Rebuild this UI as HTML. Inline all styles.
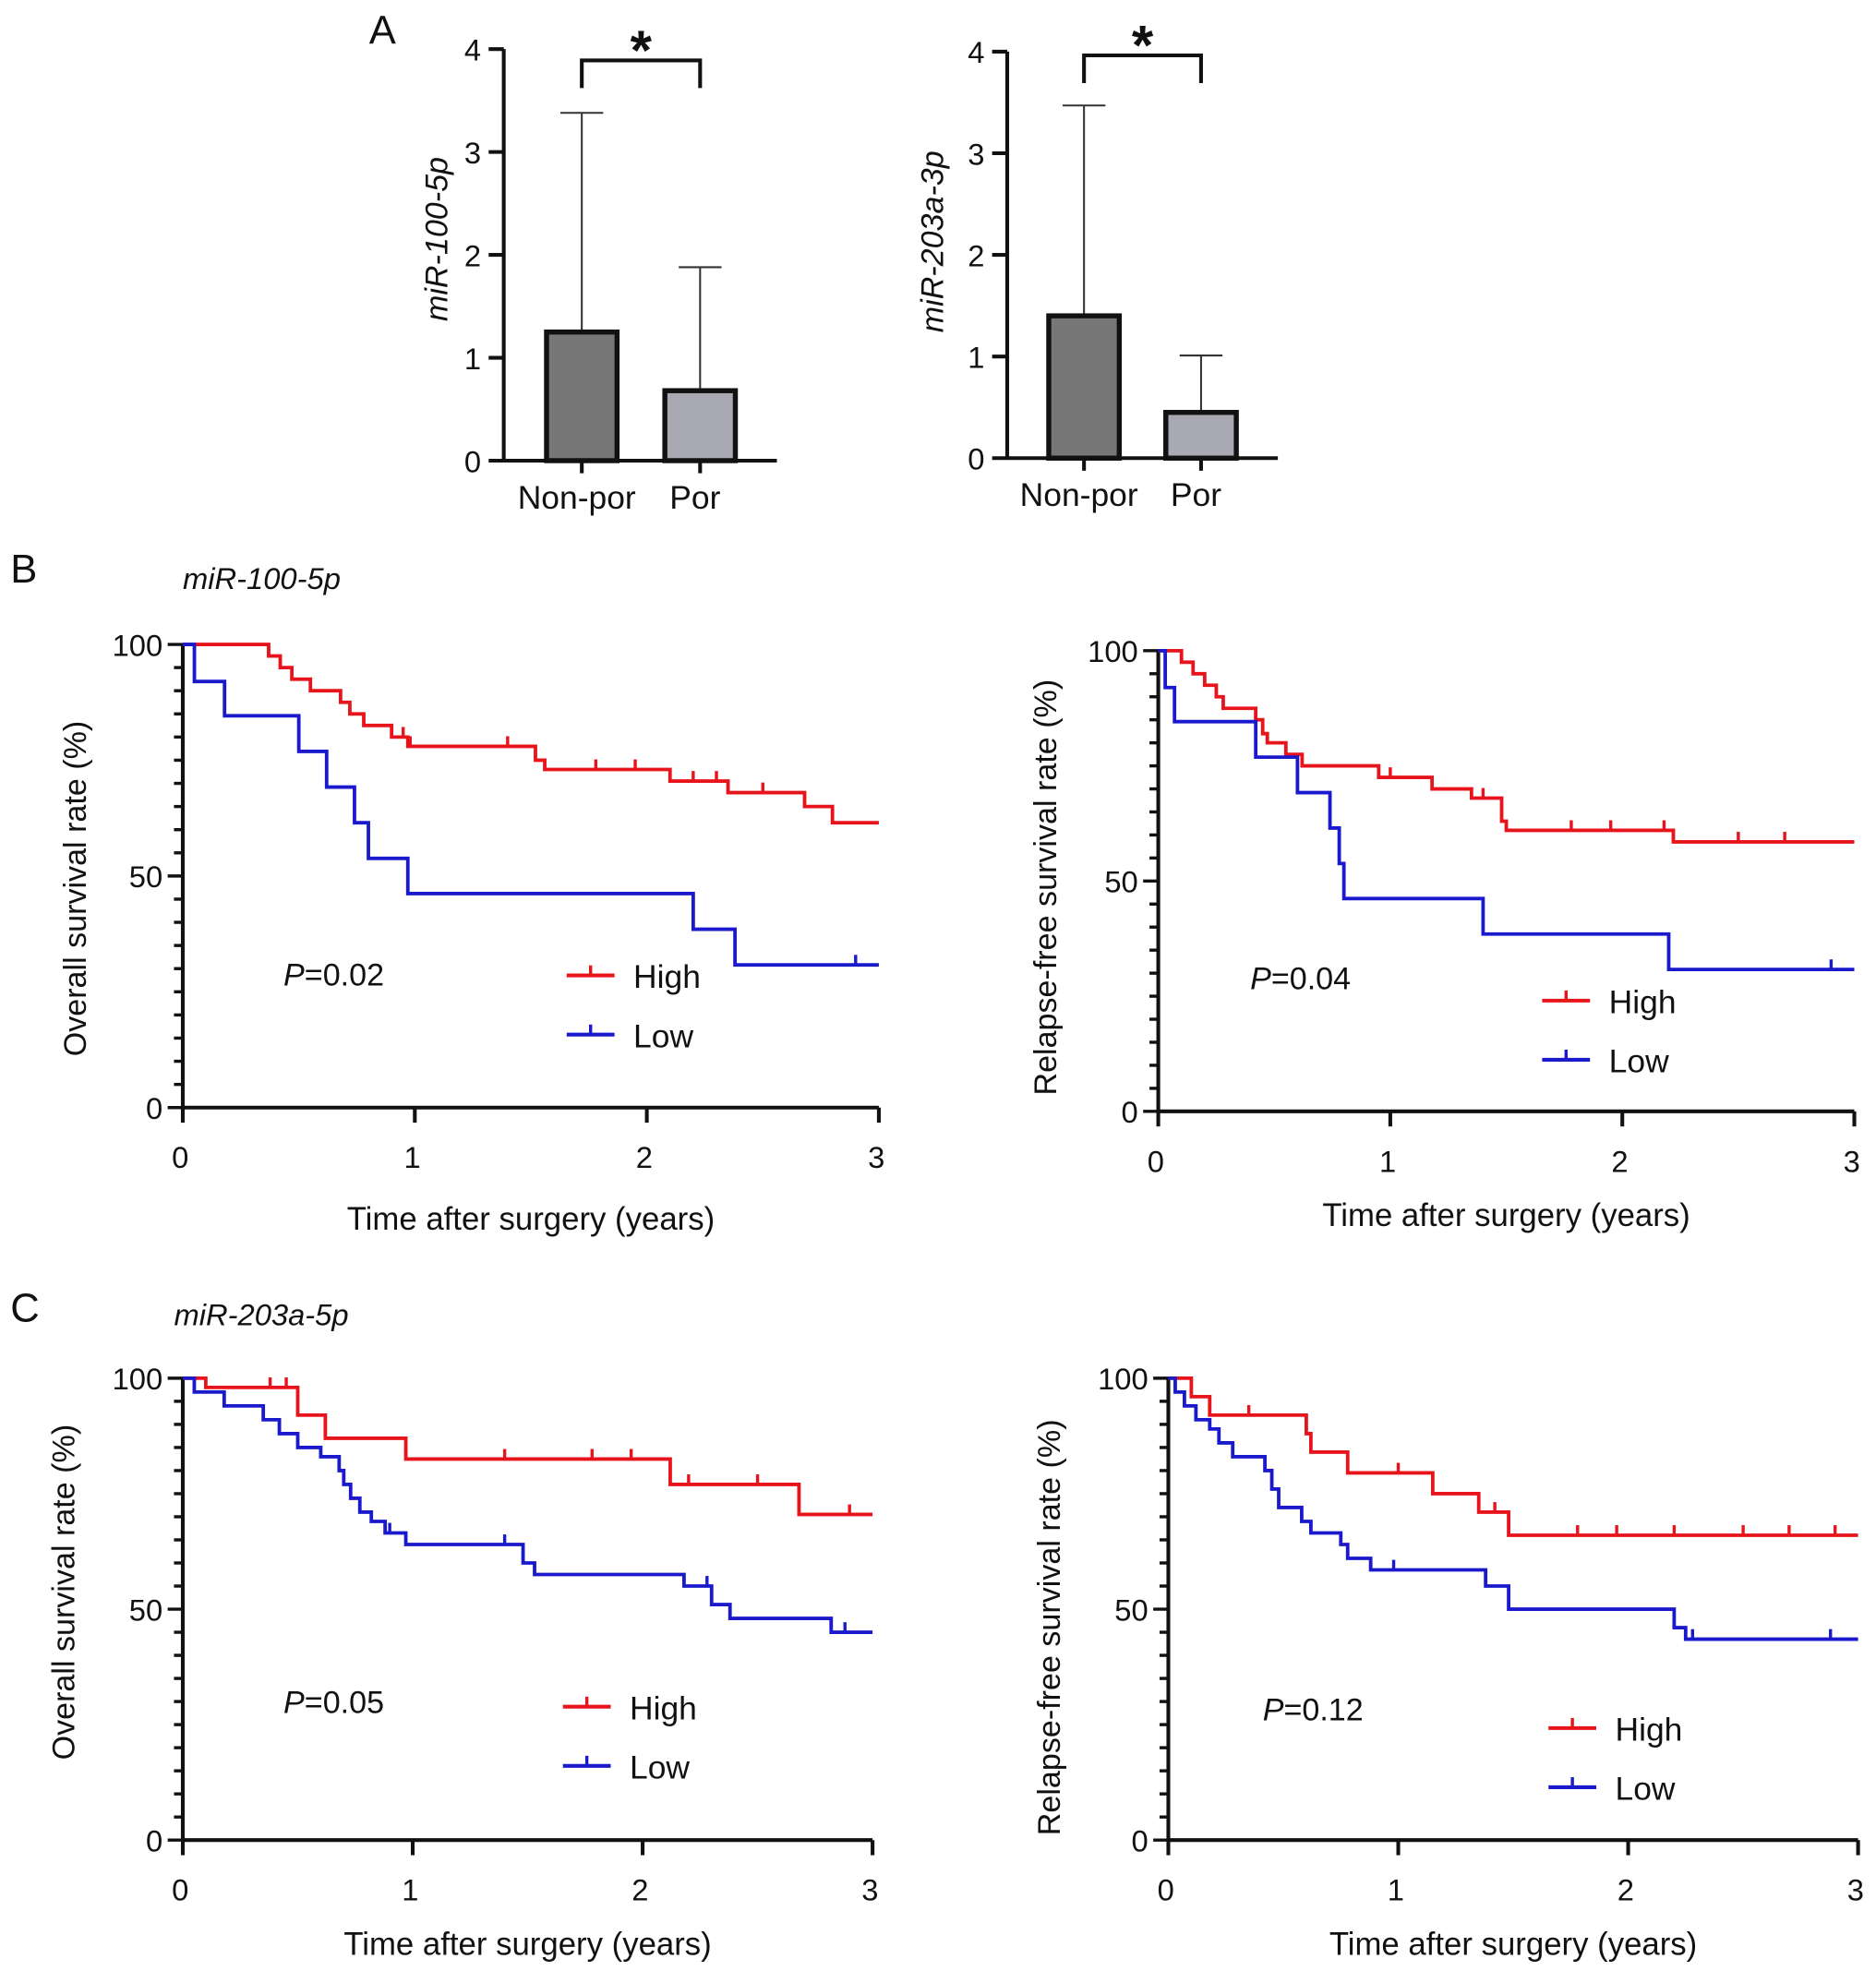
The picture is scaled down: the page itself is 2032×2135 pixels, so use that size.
<!DOCTYPE html>
<html><head><meta charset="utf-8"><style>
html,body{margin:0;padding:0;background:#fff;}
svg{display:block;font-family:"Liberation Sans",Arial,sans-serif;}
</style></head><body>
<svg id="fig" width="2032" height="2135" viewBox="0 0 1490 1566" xmlns="http://www.w3.org/2000/svg"></svg>
<script>
// ---- Panel A data ----
const barCats = ["Non-por","Por"];
const bar100Means = [1.25, 0.68];
const bar100Err = [3.38, 1.88];
const bar203Means = [1.4, 0.45];
const bar203Err = [3.47, 1.01];
const barTicks = [0,1,2,3,4];
// ---- KM data: [time, survival%] step points ----
const bOsHighT = [0,0.37,0.42,0.47,0.55,0.68,0.72,0.78,0.9,0.97,1.52,1.56,2.1,2.35,2.68,2.8];
const bOsHighS = [100,97.5,95,92.5,90,87.5,85,82.5,80,78,75,73,70.5,68,65,61.5];
const bOsHighC = [0.37,0.9,0.95,0.98,1.4,1.78,1.95,2.2,2.3,2.5];
const bOsLowT = [0,0.05,0.18,0.5,0.62,0.74,0.8,0.97,2.2,2.38];
const bOsLowS = [100,92,84.6,76.9,69.2,61.5,53.8,46.2,38.5,30.8];
const bOsLowC = [2.9];
const bRfHighT = [0,0.1,0.15,0.2,0.25,0.28,0.42,0.45,0.47,0.55,0.62,0.95,1.18,1.35,1.48,1.5,2.22];
const bRfHighS = [100,97.5,95,92.5,90,87.5,85,82,80,77.5,75,72.5,70,68,63,61,58.5];
const bRfHighC = [0.42,1.0,1.4,1.78,1.95,2.18,2.5,2.7];
const bRfLowT = [0,0.03,0.07,0.42,0.6,0.74,0.78,0.8,1.4,2.2];
const bRfLowS = [100,92,84.6,76.9,69.2,61.5,53.8,46.2,38.5,30.8];
const bRfLowC = [2.9];
const cOsHighT = [0,0.1,0.5,0.62,0.97,2.12,2.68];
const cOsHighS = [100,98,92,87,82.5,77,70.5];
const cOsHighC = [0.38,0.45,0.97,1.4,1.78,1.95,2.2,2.5,2.9];
const cOsLowT = [0,0.05,0.18,0.35,0.42,0.5,0.6,0.68,0.7,0.73,0.77,0.82,0.88,0.97,1.48,1.53,2.18,2.3,2.38,2.82];
const cOsLowS = [100,97,94,91,88,85,83,80,77,74,71,69,66.5,64,60,57.5,55,51,48,45];
const cOsLowC = [0.9,1.4,2.28,2.88];
const cRfHighT = [0,0.1,0.18,0.6,0.62,0.78,1.15,1.35,1.48];
const cRfHighS = [100,96,92,88,84,79.5,75,71,66];
const cRfHighC = [0.35,1.0,1.42,1.78,1.95,2.2,2.5,2.7,2.9];
const cRfLowT = [0,0.03,0.07,0.12,0.18,0.22,0.28,0.42,0.45,0.48,0.58,0.62,0.75,0.78,0.88,1.38,1.48,2.2,2.25];
const cRfLowS = [100,97,94,91,89,86,83,80,76,72,69,66.5,64,61,58.5,55,50,46,43.5];
const cRfLowC = [0.98,1.38,2.28,2.88];
const kmXTicks = [0,1,2,3];
const kmYTicks = [0,50,100];

const svg = document.getElementById('fig');
const NS = 'http://www.w3.org/2000/svg';
function mk(tag, attrs, parent){const e=document.createElementNS(NS,tag);for(const k in attrs)e.setAttribute(k,attrs[k]);(parent||svg).appendChild(e);return e;}
function txt(x,y,s,size,anchor,parent,extra){const t=mk('text',Object.assign({x:x,y:y,'font-size':size,'text-anchor':anchor||'start',fill:'#111'},extra||{}),parent);t.textContent=s;return t;}

// ---- bar chart ----
function barChart(name, x0, xEnd, y0, y4, means, errs, centers, bracketY){
  const g = mk('g',{});
  
  
  const ys = v => y0 - (y0-y4)*v/4;
  mk('line',{x1:x0,y1:y0,x2:xEnd,y2:y0,stroke:'#111','stroke-width':3},g);
  mk('line',{x1:x0,y1:y0+1,x2:x0,y2:y4,stroke:'#111','stroke-width':3},g);
  barTicks.forEach(t=>{
    mk('line',{x1:x0-12,y1:ys(t),x2:x0,y2:ys(t),stroke:'#111','stroke-width':3},g);
    txt(x0-18,ys(t)+9,String(t),24,'end',g);
  });
  means.forEach((m,i)=>{
    const c=centers[i];
    mk('line',{x1:c,y1:ys(m),x2:c,y2:ys(errs[i]),stroke:'#333','stroke-width':1.5},g);
    mk('line',{x1:c-17,y1:ys(errs[i]),x2:c+17,y2:ys(errs[i]),stroke:'#333','stroke-width':1.5},g);
    const r=mk('rect',{x:c-28,y:ys(m),width:56,height:y0-ys(m),fill:i===0?'#777':'#a9a9b3',stroke:'#111','stroke-width':4},g);
    
    
    mk('line',{x1:c,y1:y0,x2:c,y2:y0+10,stroke:'#111','stroke-width':3},g);
    txt(c-4,y0+38,barCats[i],26,'middle',g);
  });
  mk('path',{d:`M${centers[0]},${bracketY+22} V${bracketY} H${centers[1]} V${bracketY+22}`,fill:'none',stroke:'#111','stroke-width':3},g);
  txt((centers[0]+centers[1])/2,bracketY+7,'*',44,'middle',g,{'font-weight':'bold'});
}
barChart('bar-chart-mir100', 400, 617, 366, 39, bar100Means, bar100Err, [462,556], 48);
barChart('bar-chart-mir203', 800, 1015, 364, 41, bar203Means, bar203Err, [861,954], 44);
txt(355,190,'miR-100-5p',25,'middle',null,{transform:'rotate(-90 355 190)','font-style':'italic'});
txt(749,192,'miR-203a-3p',25,'middle',null,{transform:'rotate(-90 749 192)','font-style':'italic'});

// ---- KM ----
function km(name, x0, x3, y100, y0, series, pLabel, pPos, leg, ytitle, ytx, ytY, xtY){
  const g = mk('g',{});
  
  
  const xs = t => x0 + (x3-x0)*t/3;
  const ys = s => y0 - (y0-y100)*s/100;
  mk('line',{x1:x0,y1:y0,x2:x3,y2:y0,stroke:'#111','stroke-width':3},g);
  mk('line',{x1:x0,y1:y0+1,x2:x0,y2:y100,stroke:'#111','stroke-width':3},g);
  for(let v=0;v<=100;v+=5){
    const major = v%50===0;
    mk('line',{x1:x0-(major?12:7),y1:ys(v),x2:x0,y2:ys(v),stroke:'#111','stroke-width':2.5},g);
  }
  kmYTicks.forEach(v=>txt(x0-16,ys(v)+9,String(v),24,'end',g));
  kmXTicks.forEach(t=>{
    mk('line',{x1:xs(t),y1:y0,x2:xs(t),y2:y0+12,stroke:'#111','stroke-width':3},g);
    txt(xs(t)-2,y0+48,String(t),24,'middle',g);
  });
  series.forEach((s,k)=>{
    const color = k===0?'#e8141c':'#1a1acc';
    let d=`M${xs(s.t[0])},${ys(s.s[0])}`;
    for(let i=1;i<s.t.length;i++){d+=` H${xs(s.t[i])} V${ys(s.s[i])}`;}
    d+=` H${xs(3)}`;
    const p=mk('path',{d:d,fill:'none',stroke:color,'stroke-width':2.8},g);
    
    
    s.c.forEach(ct=>{
      let v=s.s[0];for(let i=0;i<s.t.length;i++){if(s.t[i]<=ct)v=s.s[i];}
      mk('line',{x1:xs(ct),y1:ys(v),x2:xs(ct),y2:ys(v)-8,stroke:color,'stroke-width':2.5},g);
    });
    const ly = leg[1]+k*47;
    const lg = mk('g',{},g);
    
    
    mk('line',{x1:leg[0],y1:ly,x2:leg[0]+38,y2:ly,stroke:color,'stroke-width':3},lg);
    mk('line',{x1:leg[0]+19,y1:ly,x2:leg[0]+19,y2:ly-8,stroke:color,'stroke-width':2.5},lg);
    txt(leg[0]+53,ly+10,k===0?'High':'Low',26,'start',lg);
  });
  const pt = txt(pPos[0],pPos[1],'',25,'start',g);
  const ip = document.createElementNS(NS,'tspan'); ip.setAttribute('font-style','italic'); ip.textContent='P'; pt.appendChild(ip);
  const rp = document.createElementNS(NS,'tspan'); rp.textContent='='+pLabel; pt.appendChild(rp);
  txt(ytx,ytY,ytitle,25,'middle',g,{transform:`rotate(-90 ${ytx} ${ytY})`});
  txt((x0+x3)/2,xtY,'Time after surgery (years)',25.5,'middle',g);
}
km('km-b-os',145,698,512,880,[{t:bOsHighT,s:bOsHighS,c:bOsHighC},{t:bOsLowT,s:bOsLowS,c:bOsLowC}],'0.02',[225,783],[450,775],'Overall survival rate (%)',68,706,977);
km('km-b-rfs',920,1473,517,883,[{t:bRfHighT,s:bRfHighS,c:bRfHighC},{t:bRfLowT,s:bRfLowS,c:bRfLowC}],'0.04',[993,786],[1225,795],'Relapse-free survival rate (%)',839,705,974);
km('km-c-os',145,693,1095,1462,[{t:cOsHighT,s:cOsHighS,c:cOsHighC},{t:cOsLowT,s:cOsLowS,c:cOsLowC}],'0.05',[225,1361],[447,1356],'Overall survival rate (%)',59,1265,1553);
km('km-c-rfs',928,1476,1095,1462,[{t:cRfHighT,s:cRfHighS,c:cRfHighC},{t:cRfLowT,s:cRfLowS,c:cRfLowC}],'0.12',[1003,1367],[1230,1373],'Relapse-free survival rate (%)',842,1293,1553);

txt(293,35,'A',32,'start',null,{fill:'#111'});
txt(8,463,'B',32,'start',null,{fill:'#111'});
txt(8,1050,'C',32,'start',null,{fill:'#111'});
txt(145,468,'miR-100-5p',24,'start',null,{'font-style':'italic'});
txt(138,1053,'miR-203a-5p',24,'start',null,{'font-style':'italic'});
</script>
</body></html>
